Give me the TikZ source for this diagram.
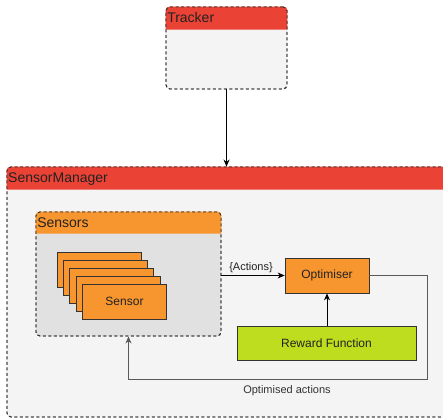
\documentclass[tikz,border=0pt]{standalone}
\usepackage{fontspec}
\setsansfont{Liberation Sans}
\usepackage{xcolor}
\usepackage{tikz}
\usetikzlibrary{arrows.meta,calc}
\definecolor{hdrred}{HTML}{EA4335}
\definecolor{hdrorange}{HTML}{F7962F}
\definecolor{rewardgreen}{HTML}{BFDD1F}
\definecolor{panelbg}{HTML}{F4F4F4}
\definecolor{innerbg}{HTML}{E1E1E1}
\definecolor{txt}{HTML}{222222}
\tikzset{
  container/.style={draw=black!80,dash pattern=on 3pt off 2.5pt,line width=0.9pt,rounded corners=4pt,inner sep=0pt},
  block/.style={draw=black!80,line width=0.8pt,fill=hdrorange,inner sep=0pt,
    font=\sffamily\fontsize{12}{14}\selectfont,text=txt},
  hdr/.style={anchor=north west,inner sep=1.5pt,font=\sffamily\fontsize{14}{16}\selectfont,text=txt}
}
\begin{document}
\begin{tikzpicture}[x=1pt,y=-1pt,>={Stealth[length=7pt,width=6pt]}]
\useasboundingbox[fill=white] (0,0) rectangle (443,419);
\clip (0,0) rectangle (443,419);
% tracker
\node[container,fill=panelbg,minimum width=121pt,minimum height=82pt] (tracker) at (226.5,48) {};
\fill[hdrred] ($(tracker.north west)+(0,23)$) [rounded corners=4pt] -- (tracker.north west) -- (tracker.north east) [sharp corners] -- ($(tracker.north east)+(0,23)$) -- cycle;
\node[container,minimum width=121pt,minimum height=82pt] at (tracker) {};
\node[hdr] at ($(tracker.north west)+(0,4.5)$) {Tracker};
% sensor manager
\node[container,fill=panelbg,minimum width=460pt,minimum height=250pt] (manager) at (237,292) {};
\fill[hdrred] ($(manager.north west)+(0,23)$) [rounded corners=4pt] -- (manager.north west) -- (manager.north east) [sharp corners] -- ($(manager.north east)+(0,23)$) -- cycle;
\node[container,minimum width=460pt,minimum height=250pt] at (manager) {};
\node[hdr] at ($(manager.north west)+(0,4.5)$) {SensorManager};
% sensors
\node[container,fill=innerbg,minimum width=185pt,minimum height=124pt] (sensors) at (128.5,274) {};
\fill[hdrorange] ($(sensors.north west)+(0,22)$) [rounded corners=4pt] -- (sensors.north west) -- (sensors.north east) [sharp corners] -- ($(sensors.north east)+(0,22)$) -- cycle;
\node[container,minimum width=185pt,minimum height=124pt] at (sensors) {};
\node[hdr] at ($(sensors.north west)+(0,4)$) {Sensors};
\foreach \i in {0,...,3}
  \node[block,minimum width=84pt,minimum height=35pt] (sensor\i) at (99+6.3*\i,269.5+8*\i) {};
\node[block,minimum width=84pt,minimum height=35pt] (sensor4) at (124.5,301.5) {Sensor};
% optimiser and reward
\node[block,minimum width=84pt,minimum height=35pt] (optimiser) at (327,275.5) {Optimiser};
\node[block,fill=rewardgreen,minimum width=179pt,minimum height=34pt] (reward) at (326.5,343) {Reward Function};
\coordinate (retcorner) at (427,379);
% connectors
\draw[->,line width=0.8pt] (tracker.south) -- (tracker.south |- manager.north);
\draw[->,line width=0.8pt] (sensors.east |- optimiser.west) -- node[above,inner sep=2pt,font=\sffamily\fontsize{11}{13}\selectfont,text=txt,xshift=-2pt]{\{Actions\}} (optimiser.west);
\draw[->,line width=0.8pt] (reward.north -| optimiser.south) -- (optimiser.south);
\draw[->,line width=0.8pt,draw=black!65] (optimiser.east) -| (retcorner) -| (sensors.south);
\node[font=\sffamily\fontsize{11}{13}\selectfont,text=black!80,anchor=north] (optlabel) at ($(retcorner)+(-140,3)$) {Optimised actions};
\end{tikzpicture}
\end{document}
